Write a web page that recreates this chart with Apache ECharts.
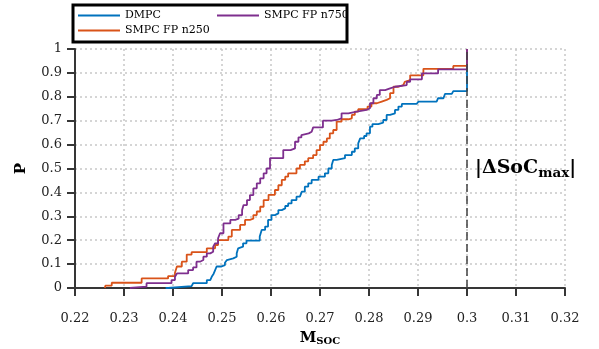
<!DOCTYPE html>
<html><head><meta charset="utf-8">
<script src="https://cdn.jsdelivr.net/npm/echarts@6/dist/echarts.min.js"></script>
<style>html,body{margin:0;padding:0;background:#fff}#c{width:599px;height:349px}</style>
</head><body><div id="c"></div>
<script>
const seriesNames = ['DMPC', 'SMPC FP n250', 'SMPC FP n750'];
const seriesColors = ['#0072BD', '#D95319', '#7E2F8E'];

const dmpcX = [0.2385,0.2390,0.2438,0.2441,0.2469,0.2476,0.2479,0.2483,0.2486,0.2489,0.2499,0.2506,0.2510,0.2513,0.2523,0.2530,0.2533,0.2537,0.2543,0.2550,0.2577,0.2581,0.2588,0.2594,0.2601,0.2608,0.2615,0.2622,0.2629,0.2635,0.2642,0.2652,0.2659,0.2663,0.2669,0.2676,0.2683,0.2697,0.2710,0.2717,0.2724,0.2727,0.2734,0.2751,0.2765,0.2771,0.2778,0.2782,0.2790,0.2795,0.2802,0.2807,0.2819,0.2829,0.2836,0.2843,0.2853,0.2860,0.2867,0.2897,0.2901,0.2938,0.2941,0.2952,0.2955,0.2969,0.2972,0.3000];
const dmpcP = [0,0.008,0.013,0.02,0.033,0.036,0.047,0.06,0.075,0.09,0.096,0.106,0.117,0.124,0.131,0.145,0.166,0.173,0.187,0.198,0.215,0.243,0.257,0.285,0.305,0.312,0.326,0.333,0.343,0.354,0.368,0.382,0.389,0.403,0.424,0.438,0.452,0.466,0.48,0.50,0.515,0.536,0.543,0.556,0.57,0.584,0.605,0.626,0.636,0.647,0.675,0.686,0.692,0.703,0.724,0.731,0.745,0.759,0.77,0.776,0.78,0.788,0.794,0.80,0.812,0.817,0.824,1];

const n250X = [0.2261,0.2262,0.2275,0.2336,0.2390,0.2404,0.2408,0.2418,0.2428,0.2438,0.2469,0.2486,0.2492,0.2513,0.2520,0.2537,0.2547,0.2557,0.2564,0.2571,0.2578,0.2585,0.2595,0.2608,0.2615,0.2622,0.2629,0.2635,0.2652,0.2659,0.2669,0.2676,0.2686,0.2693,0.2700,0.2707,0.2714,0.2720,0.2727,0.2734,0.2744,0.2758,0.2765,0.2771,0.2778,0.2797,0.2805,0.2816,0.2826,0.2836,0.2843,0.2850,0.2860,0.2870,0.2873,0.2877,0.2884,0.2911,0.2972,0.3000];
const n250P = [0,0.01,0.022,0.04,0.05,0.064,0.09,0.11,0.14,0.15,0.166,0.18,0.2,0.215,0.243,0.264,0.285,0.29,0.305,0.32,0.34,0.368,0.39,0.41,0.43,0.452,0.466,0.48,0.50,0.515,0.53,0.543,0.556,0.577,0.598,0.612,0.626,0.647,0.661,0.696,0.706,0.71,0.724,0.738,0.748,0.759,0.773,0.78,0.787,0.794,0.815,0.842,0.849,0.852,0.863,0.87,0.89,0.917,0.929,1];

const n750X = [0.2312,0.2314,0.2346,0.2397,0.2404,0.2408,0.2431,0.2441,0.2448,0.2455,0.2462,0.2469,0.2476,0.2482,0.2486,0.2492,0.2496,0.2503,0.2517,0.2527,0.2534,0.2541,0.2544,0.2551,0.2557,0.2564,0.2571,0.2578,0.2585,0.2591,0.2598,0.2625,0.2640,0.2649,0.2656,0.2662,0.2666,0.2677,0.2683,0.2686,0.2706,0.2724,0.2734,0.2744,0.2758,0.2775,0.2795,0.2802,0.2809,0.2816,0.2822,0.2833,0.2843,0.2853,0.2877,0.2884,0.2908,0.2941,0.3000];
const n750P = [0,0.006,0.02,0.033,0.047,0.061,0.075,0.086,0.11,0.117,0.131,0.145,0.152,0.173,0.187,0.208,0.229,0.27,0.285,0.29,0.305,0.326,0.347,0.368,0.389,0.417,0.438,0.459,0.48,0.50,0.543,0.577,0.584,0.612,0.63,0.64,0.647,0.654,0.66,0.672,0.70,0.703,0.71,0.731,0.738,0.745,0.752,0.773,0.794,0.808,0.828,0.835,0.842,0.849,0.863,0.873,0.898,0.915,1];

const limitX = 0.3;
const limitSpanP = [0, 1];
const annotationP = 0.5;

const xMin = 0.22, xMax = 0.32, xStep = 0.01;
const yMin = 0, yMax = 1, yStep = 0.1;

const FONT = 'DejaVu Serif';
const AX = '#363636';

const zip = (xs, ps) => xs.map((x, i) => [x, ps[i]]);
const allData = [zip(dmpcX, dmpcP), zip(n250X, n250P), zip(n750X, n750P)];

const chart = echarts.init(document.getElementById('c'), null, {renderer: 'canvas'});

const series = seriesNames.map((name, i) => ({
  name, type: 'line', step: 'end', symbol: 'none', showSymbol: false,
  data: allData[i], color: seriesColors[i],
  itemStyle: {color: seriesColors[i]},
  lineStyle: {width: 1.8, color: seriesColors[i]}, z: 3 + i, animation: false
}));
series.push({
  name: 'limit', type: 'line', symbol: 'none', z: 10, animation: false,
  data: limitSpanP.map(p => [limitX, p]),
  lineStyle: {color: '#404040', width: 1.5, type: [8, 4]},
  markPoint: {
    symbol: 'circle', symbolSize: 0, silent: true, animation: false,
    data: [{coord: [limitX, annotationP]}],
    label: {
      show: true, position: 'right', distance: 8,
      formatter: '{a||ΔSoC}{b|max}{a||}',
      rich: {
        a: {fontFamily: FONT, fontWeight: 'bold', fontSize: 19, color: '#000'},
        b: {fontFamily: FONT, fontWeight: 'bold', fontSize: 13.5, color: '#000', padding: [9, 0, 0, 0]}
      }
    }
  }
});

const legendText = {fontFamily: FONT, fontSize: 11, color: '#000'};
const legendBase = {orient: 'vertical', top: 10, padding: 0, itemGap: 4, icon: 'rect',
  itemWidth: 42, itemHeight: 1.8, textStyle: legendText, z: 20, selectedMode: false};
chart.setOption({
  animation: false,
  backgroundColor: '#fff',
  grid: {left: 75, right: 34, top: 49, bottom: 61, containLabel: false, outerBoundsMode: 'none'},
  graphic: [{type: 'rect', z: 0, shape: {x: 73, y: 5, width: 274, height: 37},
    style: {fill: '#fff', stroke: '#000', lineWidth: 3}}],
  legend: [
    Object.assign({data: seriesNames.slice(0, 2), left: 78}, legendBase),
    Object.assign({data: seriesNames.slice(2), left: 217}, legendBase)
  ],
  xAxis: {
    type: 'value', min: xMin, max: xMax, interval: xStep,
    name: '{m|M}{s|SOC}', nameLocation: 'middle', nameGap: 42,
    nameTextStyle: {rich: {
      m: {fontFamily: FONT, fontWeight: 'bold', fontSize: 15, color: '#000'},
      s: {fontFamily: FONT, fontWeight: 'bold', fontSize: 10, color: '#000', padding: [6, 0, 0, 0]}
    }},
    axisLine: {show: true, onZero: false, lineStyle: {color: AX, width: 2}},
    axisTick: {show: true, inside: false, length: 8, lineStyle: {color: AX, width: 2}},
    axisLabel: {fontFamily: FONT, fontSize: 13, color: '#222', margin: 24,
      formatter: v => String(+v.toFixed(2))},
    splitLine: {show: true, lineStyle: {color: '#c8c8c8', width: 1.5, type: [2, 3]}}
  },
  yAxis: {
    type: 'value', min: yMin, max: yMax, interval: yStep,
    name: 'P', nameLocation: 'middle', nameGap: 46,
    nameTextStyle: {fontFamily: FONT, fontWeight: 'bold', fontSize: 15, color: '#000'},
    axisLine: {show: true, onZero: false, lineStyle: {color: AX, width: 2}},
    axisTick: {show: true, inside: false, length: 8, lineStyle: {color: AX, width: 2}},
    axisLabel: {fontFamily: FONT, fontSize: 13, color: '#222', margin: 13,
      formatter: v => String(+v.toFixed(1))},
    splitLine: {show: true, lineStyle: {color: '#c8c8c8', width: 1.5, type: [2, 3]}}
  },
  series
});
</script>
</body></html>
